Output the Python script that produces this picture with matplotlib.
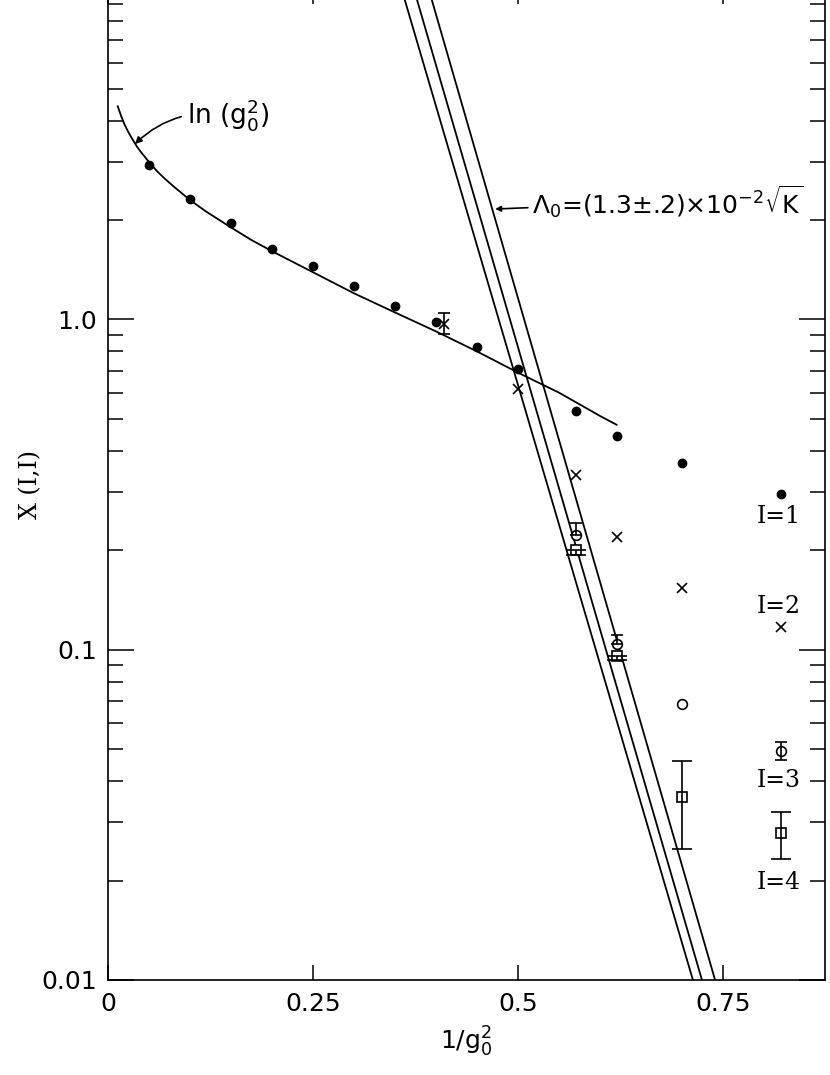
import matplotlib.pyplot as plt
import numpy as np

plt.rcParams['font.family'] = ['DejaVu Sans']
plt.rcParams['mathtext.default'] = 'regular'

# I=1 (filled dots)
i1_x = [0.05, 0.10, 0.15, 0.20, 0.25, 0.30, 0.35, 0.40, 0.45, 0.50, 0.57, 0.62, 0.70, 0.82]
i1_y = [2.94, 2.32, 1.96, 1.64, 1.45, 1.26, 1.10, 0.986, 0.828, 0.71, 0.529, 0.444, 0.367, 0.296]

# I=2 (crosses)
i2_x = [0.41, 0.50, 0.57, 0.62, 0.70, 0.82]
i2_y = [0.966, 0.617, 0.338, 0.219, 0.154, 0.117]
i2_lo = [0.06, 0, 0, 0, 0, 0]
i2_hi = [0.077, 0, 0, 0, 0, 0]

# I=3 (open circles)
i3_x = [0.57, 0.62, 0.70, 0.82]
i3_y = [0.222, 0.104, 0.0686, 0.0493]
i3_lo = [0.0, 0.0, 0.0, 0.003]
i3_hi = [0.020, 0.007, 0.0, 0.0032]

# I=4 (open squares)
i4_x = [0.57, 0.62, 0.70, 0.82]
i4_y = [0.201, 0.0960, 0.0357, 0.0278]
i4_lo = [0.007, 0.003, 0.0107, 0.0046]
i4_hi = [0.0, 0.0, 0.0103, 0.0044]

# ln(g0^2) curve
ln_x = [0.012, 0.016, 0.02, 0.025, 0.03, 0.035, 0.04, 0.05, 0.06, 0.07, 0.08, 0.10,
        0.12, 0.15, 0.175, 0.20, 0.25, 0.30, 0.35, 0.40, 0.45, 0.50, 0.55, 0.60, 0.62]
ln_y = [4.42, 4.14, 3.91, 3.69, 3.51, 3.35, 3.22, 3.00, 2.81, 2.66, 2.53, 2.30,
        2.12, 1.90, 1.74, 1.61, 1.39, 1.20, 1.05, 0.92, 0.80, 0.69, 0.60, 0.51, 0.48]

# three straight lines (Lambda_0 band): x at chi=10 and at chi=0.01
band_top_x = [0.358, 0.373, 0.391]
band_bot_x = [0.713, 0.724, 0.740]
band_y = [10, 0.01]

labels = ["I=1", "I=2", "I=3", "I=4"]
label_x = [0.791, 0.791, 0.791, 0.791]
label_y = [0.254, 0.135, 0.0403, 0.0197]


def errbar(ax, xs, ys, lo, hi, cap):
    # only the points that carry an error bar
    sel = [i for i in range(len(xs)) if lo[i] > 0 or hi[i] > 0]
    ax.errorbar([xs[i] for i in sel], [ys[i] for i in sel],
                yerr=[[lo[i] for i in sel], [hi[i] for i in sel]],
                fmt='none', ecolor='black', elinewidth=1.2, capsize=cap, capthick=1.2)


fig = plt.figure(figsize=(8.3, 10.75), dpi=100)
ax = fig.add_axes([0.130, 0.0884, 0.864, 0.9216])
ax.set_yscale('log')
ax.set_xlim(0, 0.874)
ax.set_ylim(0.01, 10)

k = 'black'
ax.plot(ln_x, ln_y, '-', color=k, lw=1.3)
for xt, xb in zip(band_top_x, band_bot_x):
    ax.plot([xt, xb], band_y, '-', color=k, lw=1.3)

ax.plot(i1_x, i1_y, 'o', color=k, ms=6, ls='none')
ax.plot(i2_x, i2_y, 'x', color=k, ms=7, mew=1.2, ls='none')
ax.plot(i3_x, i3_y, 'o', color=k, mfc='white', ms=7, mew=1.2, ls='none')
ax.plot(i4_x, i4_y, 's', color=k, mfc='white', ms=6.5, mew=1.2, ls='none')
errbar(ax, i2_x, i2_y, i2_lo, i2_hi, 4)
errbar(ax, i3_x, i3_y, i3_lo, i3_hi, 4)
errbar(ax, i4_x, i4_y, i4_lo, i4_hi, 7)

for t, x, y in zip(labels, label_x, label_y):
    ax.text(x, y, t, fontsize=17, family='DejaVu Serif', ha='left', va='center')

ax.annotate(r"ln $(g_0^2)$", xy=(0.033, 3.40), xytext=(0.096, 4.17),
            fontsize=19, va='center', ha='left',
            arrowprops=dict(arrowstyle='-|>', color=k, lw=1.2, mutation_scale=10,
                            connectionstyle='arc3,rad=0.25', shrinkA=2, shrinkB=0))
ax.annotate(r"$\Lambda_0$=(1.3$\pm$.2)$\times$10$^{-2}\sqrt{K}$",
            xy=(0.472, 2.16), xytext=(0.517, 2.27), fontsize=18, va='center', ha='left',
            arrowprops=dict(arrowstyle='-|>', color=k, lw=1.2, mutation_scale=8,
                            shrinkA=1, shrinkB=0))

ax.set_xticks([0, 0.25, 0.5, 0.75])
ax.set_xticklabels(["0", "0.25", "0.5", "0.75"])
ax.set_yticks([0.01, 0.1, 1, 10])
ax.set_yticklabels(["0.01", "0.1", "1.0", "10"])
ax.tick_params(axis='x', which='major', direction='in', length=11, width=1.1,
               top=True, labelsize=18, pad=9)
ax.tick_params(axis='y', which='major', direction='in', length=19, width=1.1,
               right=True, labelsize=18, pad=8)
ax.tick_params(axis='y', which='minor', direction='in', length=11, width=1.1, right=True)
for s in ax.spines.values():
    s.set_linewidth(1.2)

ax.set_xlabel(r"1/$g_0^2$", fontsize=18, labelpad=6)
ax.set_ylabel("X (I,I)", fontsize=17, family='DejaVu Serif')
ax.yaxis.set_label_coords(-0.092, 0.5)

fig.savefig("out.png", dpi=100)
